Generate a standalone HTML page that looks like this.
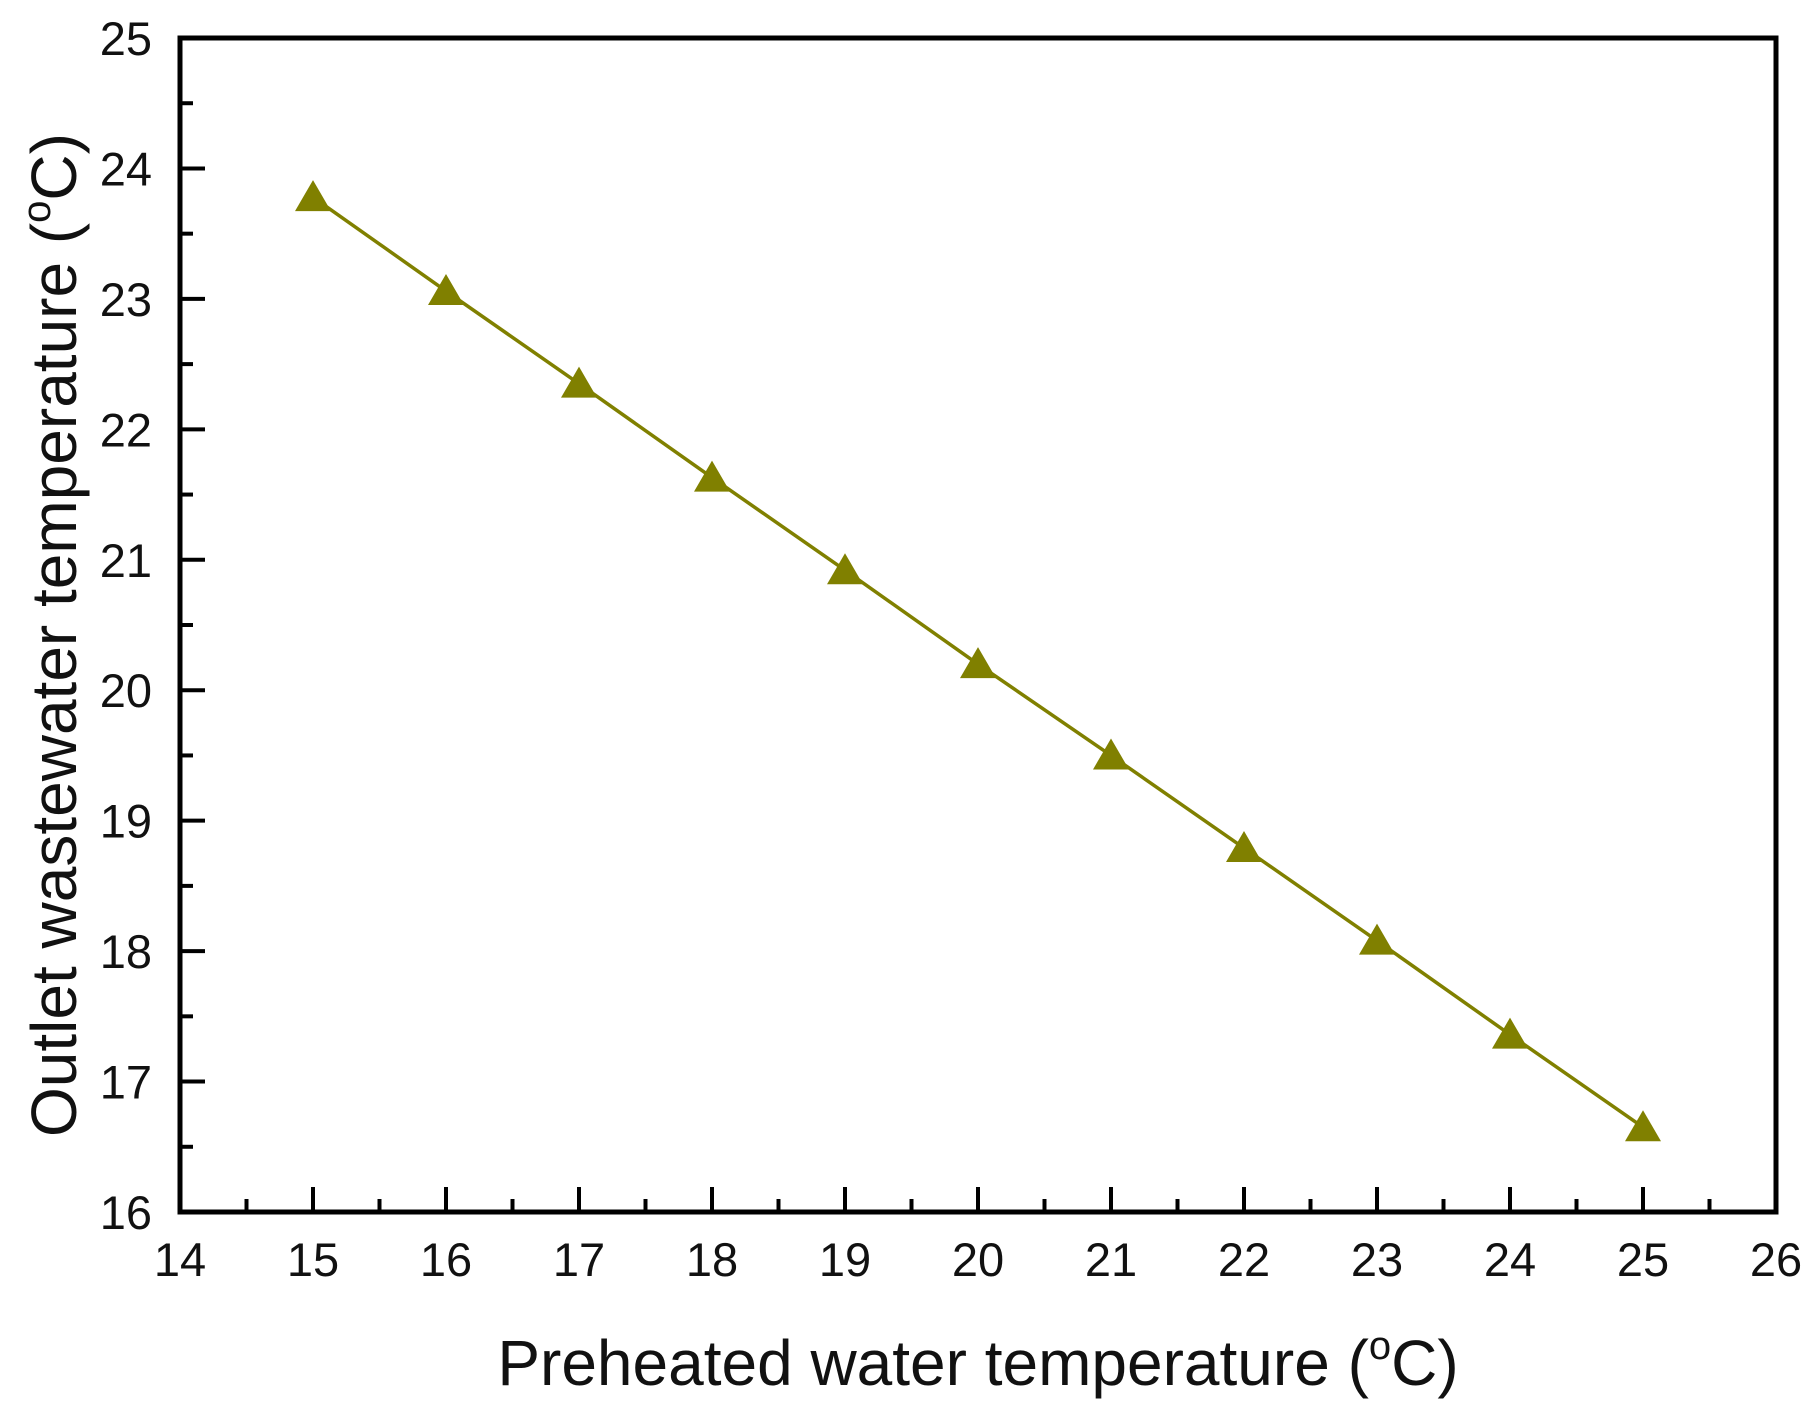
<!DOCTYPE html>
<html><head><meta charset="utf-8"><style>
html,body{margin:0;padding:0;background:#fff;}
svg{display:block;font-family:"Liberation Sans",Arial,sans-serif;}
</style></head><body>
<svg id="chart" width="1816" height="1412" viewBox="0 0 1816 1412" xmlns="http://www.w3.org/2000/svg">
<g id="plot"></g>
</svg>
<script>
const xValues=[15,16,17,18,19,20,21,22,23,24,25];
const yValues=[23.78,23.06,22.35,21.63,20.92,20.2,19.5,18.79,18.08,17.36,16.65];
const xTickLabels=[14,15,16,17,18,19,20,21,22,23,24,25,26];
const yTickLabels=[16,17,18,19,20,21,22,23,24,25];
const L=180,R=1776,T=38,B=1212,xMin=14,xMax=26,yMin=16,yMax=25;
const sx=v=>L+(v-xMin)/(xMax-xMin)*(R-L);
const sy=v=>B-(v-yMin)/(yMax-yMin)*(B-T);
const NS="http://www.w3.org/2000/svg";
const g=document.getElementById('plot');
function mk(tag,attrs){const e=document.createElementNS(NS,tag);for(const k in attrs)e.setAttribute(k,attrs[k]);g.appendChild(e);return e;}
xTickLabels.forEach((v,i)=>{
  const x=sx(v);
  const t=mk('line',{x1:x,x2:x,y1:B,y2:B-25,stroke:'#000','stroke-width':4});
  
  
  if(i<xTickLabels.length-1){const xm=sx(v+0.5);
    const m=mk('line',{x1:xm,x2:xm,y1:B,y2:B-13,stroke:'#000','stroke-width':4});
    
    }
  const lb=mk('text',{x:x,y:1276,'font-size':47,'text-anchor':'middle',fill:'#111'});
  lb.textContent=v;
  
  
});
yTickLabels.forEach((v,i)=>{
  const y=sy(v);
  const t=mk('line',{x1:L,x2:L+25,y1:y,y2:y,stroke:'#000','stroke-width':4});
  
  
  if(i<yTickLabels.length-1){const ym=sy(v+0.5);
    const m=mk('line',{x1:L,x2:L+13,y1:ym,y2:ym,stroke:'#000','stroke-width':4});
    
    }
  const lb=mk('text',{x:152,y:y+17,'font-size':47,'text-anchor':'end',fill:'#111'});
  lb.textContent=v;
  
  
});
const frame=mk('rect',{x:L,y:T,width:R-L,height:B-T,fill:'none',stroke:'#000','stroke-width':5});


const line=mk('polyline',{points:xValues.map((x,i)=>sx(x)+','+sy(yValues[i])).join(' '),fill:'none',stroke:'#808000','stroke-width':3.5});


xValues.forEach((x,i)=>{
  const cx=sx(x),cy=sy(yValues[i]);
  const p=mk('polygon',{points:`${cx},${cy-17} ${cx-18},${cy+14} ${cx+18},${cy+14}`,fill:'#808000'});
  
  
});
const xt=mk('text',{x:(L+R)/2,y:1385,'font-size':64,'text-anchor':'middle',fill:'#111'});
xt.innerHTML='Preheated water temperature (<tspan font-size="40" dy="-26">o</tspan><tspan dy="26">C)</tspan>';


const yt=mk('text',{x:0,y:0,'font-size':64,'text-anchor':'middle',fill:'#111',transform:`translate(76,${(T+B)/2+10}) rotate(-90)`});
yt.innerHTML='Outlet wastewater temperature (<tspan font-size="40" dy="-26">o</tspan><tspan dy="26">C)</tspan>';


</script>
</body></html>
